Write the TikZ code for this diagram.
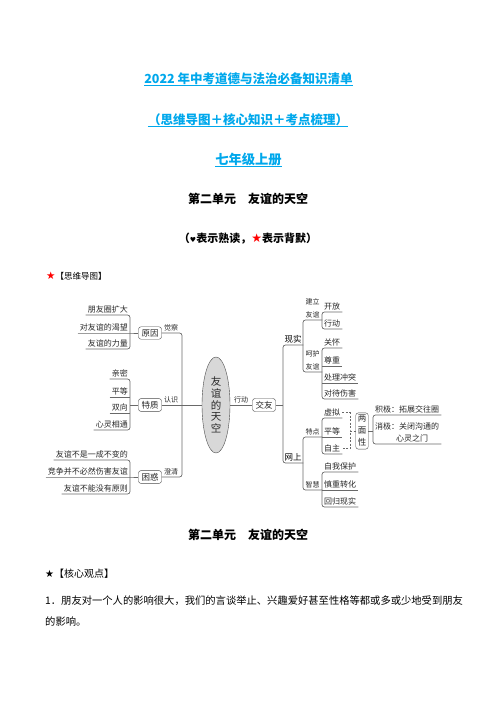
\documentclass[tikz,border=0pt]{standalone}
\usepackage{fontspec}
\setmainfont{Noto Sans CJK SC}
\newfontfamily\symfont{DejaVu Sans}
\usepackage{tikz}
\usetikzlibrary{shapes.geometric,positioning}
\definecolor{titleblue}{RGB}{0,168,236}
\definecolor{mapline}{RGB}{105,105,105}
\definecolor{maptext}{RGB}{40,40,40}
\definecolor{bubblegray}{RGB}{216,216,216}
\tikzset{
  branch/.style={draw=mapline,line width=0.7pt},
  bracket/.style={branch,rounded corners=2.5pt},
  topic/.style={draw=mapline!70!black,rounded corners=2.5pt,fill=white,inner xsep=3pt,inner ysep=2.5pt,text=maptext,font=\fontsize{8.5}{10}\selectfont},
  leaf/.style={inner xsep=2pt,inner ysep=1.5pt,text=maptext,font=\fontsize{8}{9}\selectfont},
  lleaf/.style={leaf,anchor=south east},
  rleaf/.style={leaf,anchor=south west},
  sublabel/.style={rleaf,align=center,minimum width=19pt,font=\fontsize{7}{13}\selectfont},
  tag/.style={inner sep=1pt,text=maptext,font=\fontsize{7}{8}\selectfont},
  headline/.style={anchor=base,inner sep=0pt,text=titleblue,font=\fontsize{12.5}{14}\selectfont\bfseries},
  unittitle/.style={anchor=base,inner sep=0pt,font=\fontsize{12}{14}\selectfont\bfseries},
  bodytext/.style={anchor=base west,inner sep=0pt,font=\fontsize{10.3}{12}\selectfont},
}
\begin{document}
\begin{tikzpicture}[x=1pt,y=-1pt]
\useasboundingbox[fill=white] (0,0) rectangle (496,702);
% headings
\node[headline] (head1) at (248.5,83) {2022 年中考道德与法治必备知识清单};
\node[headline] (head2) at (248,124.5) {（思维导图＋核心知识＋考点梳理）};
\node[headline,font=\fontsize{13.3}{15}\selectfont\bfseries] (head3) at (248.5,164.5) {七年级上册};
\draw[titleblue,line width=0.9pt] ([yshift=-2.5pt]head1.base west) -- ([yshift=-2.5pt]head1.base east);
\draw[titleblue,line width=0.9pt] ([yshift=-2pt]head2.base west) -- ([yshift=-2pt]head2.base east);
\draw[titleblue,line width=0.9pt] ([yshift=-2pt]head3.base west) -- ([yshift=-2pt]head3.base east);
\node[unittitle] (unit1) at (248,203) {第二单元\hspace{1em}友谊的天空};
\node[unittitle,font=\fontsize{11}{13}\selectfont\bfseries] (legend) at (248,242) {（{\symfont\fontsize{7}{8}\selectfont ♥}表示熟读，{\color{red}\symfont\fontsize{12}{13}\selectfont ★}表示背默）};
\node[anchor=base west,inner sep=0pt,font=\fontsize{8.5}{10}\selectfont] (mapmark) at (46,279.5) {{\color{red}\symfont\fontsize{10.5}{11}\selectfont ★}【思维导图】};

% centre and left side
\node[ellipse,draw=mapline!70!black,fill=bubblegray,minimum width=28pt,minimum height=96pt,inner sep=0pt,align=center,text=maptext,font=\fontsize{10.5}{11.6}\selectfont] (theme) at (216,405) {友\\谊\\的\\天\\空};
\node[topic] (yuanyin) at (150,333) {原因};
\node[topic] (tezhi) at (150,405) {特质};
\node[topic] (kunhuo) at (150,477) {困惑};
\coordinate (ltrunk) at (182,405);
\draw[bracket] (yuanyin.east) -| (ltrunk) |- (kunhuo.east);
\draw[branch] (tezhi.east) -- (theme.west);
\node[tag,anchor=south] (juecha) at (171,332) {觉察};
\node[tag,anchor=south] (renshi) at (171,404) {认识};
\node[tag,anchor=south] (chengqing) at (171,476) {澄清};

\node[lleaf] (y1) at (130,315) {朋友圈扩大};
\node[lleaf] (y2) at (130,333) {对友谊的渴望};
\node[lleaf] (y3) at (130,349) {友谊的力量};
\draw[bracket] (y1.south west) -- (y1.south east) -- (y3.south east) -- (y3.south west);
\draw[branch] (y2.south west) -- (y2.south east) -- (yuanyin.west);

\node[lleaf] (t1) at (130,379) {亲密};
\node[lleaf] (t2) at (130,397) {平等};
\node[lleaf] (t3) at (130,413) {双向};
\node[lleaf] (t4) at (130,430) {心灵相通};
\draw[bracket] (t1.south west) -- (t1.south east) -- (t4.south east) -- (t4.south west);
\draw[branch] (t2.south west) -- (t2.south east);
\draw[branch] (t3.south west) -- (t3.south east);
\draw[branch] (t1.south east |- tezhi.west) -- (tezhi.west);

\node[lleaf] (k1) at (130,460) {友谊不是一成不变的};
\node[lleaf] (k2) at (130,477) {竞争并不必然伤害友谊};
\node[lleaf] (k3) at (130,494) {友谊不能没有原则};
\draw[bracket] (k1.south west) -- (k1.south east) -- (k3.south east) -- (k3.south west);
\draw[branch] (k2.south west) -- (k2.south east) -- (kunhuo.west);

% right side
\node[topic] (jiaoyou) at (264,405) {交友};
\draw[branch] (theme.east) -- (jiaoyou.west);
\node[tag,anchor=south] (xingdong) at (241,404) {行动};
\node[rleaf,inner xsep=1.5pt,text=black,font=\fontsize{8.5}{9}\selectfont] (xianshi) at (283,345) {现实};
\node[rleaf,inner xsep=1.5pt,text=black,font=\fontsize{8.5}{9}\selectfont] (wangshang) at (283,463) {网上};
\draw[bracket] (xianshi.south east) -- (xianshi.south west) -- (wangshang.south west) -- (wangshang.south east);
\draw[branch] (jiaoyou.east) -- (jiaoyou.east -| xianshi.south west);

\node[sublabel] (jianli) at (303,320) {建立\\友谊};
\node[sublabel] (hehu) at (303,372) {呵护\\友谊};
\draw[bracket] (jianli.south east) -- (jianli.south west) -- (hehu.south west) -- (hehu.south east);
\node[rleaf] (kaifang) at (322,312) {开放};
\node[rleaf] (xingdong2) at (322,329) {行动};
\draw[bracket] (kaifang.south east) -- (kaifang.south west) -- (xingdong2.south west) -- (xingdong2.south east);
\node[rleaf] (guanhuai) at (322,348) {关怀};
\node[rleaf] (zunzhong) at (322,366) {尊重};
\node[rleaf] (chongtu) at (322,383) {处理冲突};
\node[rleaf] (shanghai) at (322,399) {对待伤害};
\draw[bracket] (guanhuai.south east) -- (guanhuai.south west) -- (shanghai.south west) -- (shanghai.south east);
\draw[branch] (zunzhong.south west) -- (zunzhong.south east);
\draw[branch] (chongtu.south west) -- (chongtu.south east);

\node[sublabel] (tedian) at (303,437) {特点};
\node[sublabel] (zhihui) at (303,490) {智慧};
\draw[bracket] (tedian.south east) -- (tedian.south west) -- (zhihui.south west) -- (zhihui.south east);
\node[rleaf] (xuni) at (322,418) {虚拟};
\node[rleaf] (pingdeng) at (322,437) {平等};
\node[rleaf] (zizhu) at (322,454) {自主};
\draw[bracket] (xuni.south east) -- (xuni.south west) -- (zizhu.south west) -- (zizhu.south east);
\draw[branch] (pingdeng.south west) -- (pingdeng.south east);
\node[rleaf] (baohu) at (322,472) {自我保护};
\node[rleaf] (zhuanhua) at (322,490) {慎重转化};
\node[rleaf] (huigui) at (322,507) {回归现实};
\draw[bracket] (baohu.south east) -- (baohu.south west) -- (huigui.south west) -- (huigui.south east);
\draw[branch] (zhuanhua.south west) -- (zhuanhua.south east);

\node[topic,align=center,inner xsep=2pt,font=\fontsize{8.5}{12}\selectfont] (liangmian) at (362,431) {两\\面\\性};
\coordinate (dashx) at (350,431);
\draw[branch,dash pattern=on 2pt off 1.5pt] (xuni.east) -| (dashx) |- (zizhu.east);
\draw[branch,dash pattern=on 2pt off 1.5pt] (dashx) -- (liangmian.west);
\node[rleaf] (jiji) at (373,415) {积极：拓展交往圈};
\node[rleaf,align=left,font=\fontsize{8}{12}\selectfont] (xiaoji) at (373,444) {消极：关闭沟通的\\\hspace*{2.6em}心灵之门};
\draw[bracket] (jiji.south east) -- (jiji.south west) -- (xiaoji.south west) -- (xiaoji.south east);
\draw[branch] (liangmian.east) -- (liangmian.east -| jiji.south west);

% text below the map
\node[unittitle] (unit2) at (248,539) {第二单元\hspace{1em}友谊的天空};
\node[anchor=base west,inner sep=0pt,font=\fontsize{10}{12}\selectfont] (core) at (45,577) {{\symfont ★}【核心观点】};
\node[bodytext] (para1) at (45,604) {1．朋友对一个人的影响很大，我们的言谈举止、兴趣爱好甚至性格等都或多或少地受到朋友};
\node[bodytext] (para2) at (45,625) {的影响。};
\end{tikzpicture}
\end{document}
